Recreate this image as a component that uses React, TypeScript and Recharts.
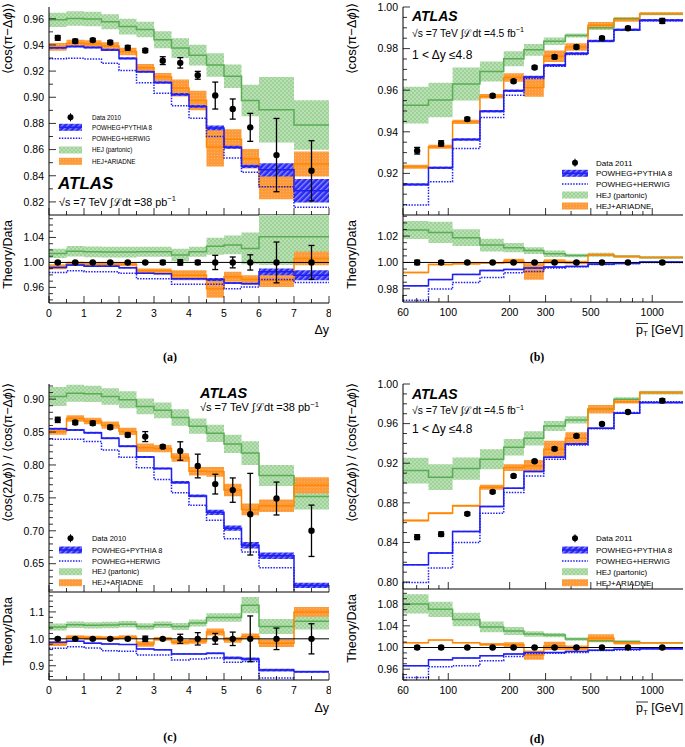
import React from "react";
import { ComposedChart, Area, Line, Scatter, ErrorBar, XAxis, YAxis, ReferenceLine } from "recharts";

const FONT = '"Liberation Sans", Arial, Helvetica, sans-serif';
const SERIF = '"Liberation Serif", "Times New Roman", serif';

const GREEN_LINE = "#58ad55";
const ORANGE_LINE = "#ff8800";
const BLUE = "#1e1ef5";

/* ---------- binning ---------- */
const DY_EDGES = [0, 0.5, 1, 1.5, 2, 2.5, 3, 3.5, 4, 4.5, 5, 5.5, 6, 7, 8];
const DY_CENTERS = [0.25, 0.75, 1.25, 1.75, 2.25, 2.75, 3.25, 3.75, 4.25, 4.75, 5.25, 5.75, 6.5, 7.5];
const DY_LABELS = [0, 1, 2, 3, 4, 5, 6, 7, 8];

const PT_EDGES = [60, 80, 105, 143, 187, 235, 294, 375, 484, 649, 868, 1415];
const PT_CENTERS = [70.4, 92.3, 124, 165, 209, 265, 332, 425, 567, 760, 1120];
const PT_LABELS = [60, 100, 200, 300, 500, 1000];
const PT_MINOR = [60, 70, 80, 90, 100, 200, 300, 400, 500, 600, 700, 800, 900, 1000];

/* ---------- (a) <cos(pi - dphi)> vs dy, 2010 ---------- */
const A_DATA = [0.9454, 0.9429, 0.9437, 0.9419, 0.9378, 0.9357, 0.928, 0.9263, 0.9168, 0.9013, 0.891, 0.877, 0.8558, 0.8438];
const A_DATA_ERR = [0.0018, 0.0015, 0.0012, 0.0015, 0.0018, 0.0015, 0.003, 0.004, 0.003, 0.0103, 0.0077, 0.0107, 0.028, 0.023];
const A_PYTHIA = [0.9378, 0.9388, 0.938, 0.9362, 0.9297, 0.9195, 0.9113, 0.9022, 0.893, 0.8766, 0.8618, 0.8472, 0.8445, 0.8285];
const A_PYTHIA_ERR = [0.0008, 0.0008, 0.0008, 0.0008, 0.0008, 0.0008, 0.0009, 0.001, 0.001, 0.0018, 0.0012, 0.0012, 0.005, 0.009];
const A_HERWIG = [0.9295, 0.9298, 0.9293, 0.926, 0.9205, 0.911, 0.903, 0.8935, 0.884, 0.87, 0.8536, 0.8426, 0.8315, 0.816];
const A_HEJ = [0.9592, 0.9602, 0.9598, 0.9577, 0.954, 0.9518, 0.944, 0.9376, 0.9322, 0.9247, 0.916, 0.8975, 0.8905, 0.8788];
const A_HEJ_ERR = [0.0055, 0.0055, 0.0055, 0.0058, 0.006, 0.006, 0.0065, 0.0075, 0.008, 0.009, 0.009, 0.012, 0.025, 0.019];
const A_ARIADNE = [0.9385, 0.9412, 0.9408, 0.9392, 0.935, 0.9225, 0.9155, 0.907, 0.8975, 0.862, 0.868, 0.853, 0.8315, 0.849];
const A_ARIADNE_ERR = [0.003, 0.0028, 0.0028, 0.0028, 0.0028, 0.003, 0.003, 0.0065, 0.0075, 0.015, 0.0075, 0.0075, 0.0095, 0.0095];

const AR_DATA_ERR = [0.0019, 0.0016, 0.0013, 0.0016, 0.0019, 0.0016, 0.0032, 0.0043, 0.0033, 0.0114, 0.0087, 0.0122, 0.0327, 0.0272];
const AR_PYTHIA = [0.992, 0.9957, 0.994, 0.994, 0.9914, 0.9825, 0.982, 0.974, 0.974, 0.9726, 0.967, 0.966, 0.985, 0.9795];
const AR_PYTHIA_ERR = [0.001, 0.001, 0.001, 0.001, 0.001, 0.001, 0.001, 0.0012, 0.0012, 0.0025, 0.0014, 0.0014, 0.0054, 0.008];
const AR_HERWIG = [0.984, 0.9866, 0.985, 0.985, 0.9825, 0.9737, 0.9737, 0.965, 0.965, 0.965, 0.958, 0.9608, 0.9726, 0.9678];
const AR_HEJ = [1.0145, 1.018, 1.017, 1.0166, 1.0166, 1.017, 1.017, 1.012, 1.017, 1.026, 1.028, 1.0225, 1.041, 1.041];
const AR_HEJ_ERR = [0.0075, 0.0085, 0.0085, 0.0085, 0.0085, 0.008, 0.008, 0.01, 0.008, 0.0135, 0.015, 0.0255, 0.045, 0.04];
const AR_ARIADNE = [0.993, 0.998, 0.997, 0.997, 0.997, 0.9866, 0.9866, 0.9796, 0.9796, 0.958, 0.977, 0.9726, 0.9715, 1.0064];
const AR_ARIADNE_ERR = [0.004, 0.003, 0.003, 0.003, 0.003, 0.0035, 0.0035, 0.008, 0.008, 0.0145, 0.008, 0.007, 0.011, 0.011];

/* ---------- (b) <cos(pi - dphi)> vs mean pT, 2011 ---------- */
const B_DATA = [0.9309, 0.9344, 0.9461, 0.9573, 0.9643, 0.9709, 0.976, 0.9808, 0.985, 0.9898, 0.9933];
const B_DATA_ERR = [0.0016, 0.0013, 0.0008, 0.0007, 0.0007, 0.0007, 0.0008, 0.0008, 0.0008, 0.0008, 0.0012];
const B_PYTHIA = [0.9147, 0.9227, 0.9363, 0.9499, 0.9597, 0.9664, 0.972, 0.9776, 0.9837, 0.9891, 0.9936];
const B_PYTHIA_ERR = [0.0006, 0.0006, 0.0006, 0.0006, 0.0006, 0.0006, 0.0006, 0.0006, 0.0006, 0.0006, 0.0006];
const B_HERWIG = [0.9048, 0.916, 0.932, 0.9469, 0.9576, 0.9656, 0.9715, 0.9772, 0.9835, 0.989, 0.9934];
const B_HEJ = [0.9528, 0.9553, 0.963, 0.969, 0.9751, 0.9794, 0.9835, 0.9863, 0.99, 0.9944, 0.9968];
const B_HEJ_ERR = [0.0088, 0.0083, 0.0079, 0.0048, 0.0036, 0.0028, 0.0018, 0.001, 0.0011, 0.0008, 0.0008];
const B_ARIADNE = [0.9232, 0.9328, 0.9448, 0.9571, 0.9661, 0.9613, 0.9763, 0.9808, 0.9912, 0.9939, 0.9968];
const B_ARIADNE_ERR = [0.001, 0.001, 0.001, 0.0011, 0.002, 0.0044, 0.0028, 0.0018, 0.0016, 0.001, 0.0005];

const BR_DATA_ERR = [0.0017, 0.0014, 0.0009, 0.0008, 0.0008, 0.0007, 0.0008, 0.0008, 0.0008, 0.0008, 0.0012];
const BR_PYTHIA = [0.9823, 0.987, 0.9909, 0.9939, 0.9947, 0.9957, 0.9965, 0.997, 0.9988, 0.9993, 1.0003];
const BR_PYTHIA_ERR = [0.0005, 0.0005, 0.0005, 0.0005, 0.0005, 0.0005, 0.0005, 0.0005, 0.0005, 0.0005, 0.0005];
const BR_HERWIG = [0.9714, 0.9798, 0.9848, 0.9886, 0.9922, 0.9932, 0.9957, 0.9968, 0.9985, 0.9993, 1.0];
const BR_HEJ = [1.0246, 1.0228, 1.0188, 1.0132, 1.0112, 1.009, 1.0066, 1.0053, 1.0058, 1.0046, 1.0038];
const BR_HEJ_ERR = [0.0068, 0.008, 0.0064, 0.0048, 0.0035, 0.0025, 0.0025, 0.0013, 0.0015, 0.0009, 0.0009];
const BR_ARIADNE = [0.9924, 0.9985, 0.999, 0.9995, 1.001, 0.9932, 1.0008, 1.0, 1.0058, 1.0046, 1.0038];
const BR_ARIADNE_ERR = [0.0006, 0.0006, 0.0006, 0.0007, 0.0018, 0.0063, 0.0016, 0.0013, 0.0009, 0.0007, 0.0005];

/* ---------- (c) <cos(2dphi)>/<cos(pi - dphi)> vs dy, 2010 ---------- */
const C_DATA = [0.8685, 0.8644, 0.8634, 0.8573, 0.8456, 0.8431, 0.8278, 0.8212, 0.7984, 0.7709, 0.7618, 0.7252, 0.749, 0.7];
const C_DATA_ERR = [0.004, 0.003, 0.003, 0.003, 0.003, 0.0076, 0.0025, 0.014, 0.018, 0.015, 0.0185, 0.062, 0.025, 0.039];
const C_PYTHIA = [0.855, 0.853, 0.849, 0.8405, 0.8285, 0.8122, 0.7945, 0.7735, 0.753, 0.728, 0.704, 0.678, 0.662, 0.617];
const C_PYTHIA_ERR = [0.0015, 0.0015, 0.0015, 0.0015, 0.0015, 0.0015, 0.0015, 0.002, 0.002, 0.004, 0.004, 0.005, 0.005, 0.004];
const C_HERWIG = [0.839, 0.839, 0.8355, 0.8228, 0.8116, 0.7958, 0.778, 0.7577, 0.7389, 0.716, 0.688, 0.6678, 0.6439, 0.585];
const C_HEJ = [0.904, 0.909, 0.908, 0.904, 0.899, 0.889, 0.883, 0.872, 0.859, 0.848, 0.832, 0.818, 0.784, 0.752];
const C_HEJ_ERR = [0.0145, 0.013, 0.0125, 0.0125, 0.013, 0.012, 0.012, 0.0125, 0.0115, 0.013, 0.014, 0.018, 0.016, 0.0195];
const C_ARIADNE = [0.851, 0.8705, 0.8668, 0.8605, 0.851, 0.8262, 0.825, 0.8112, 0.7905, 0.7895, 0.762, 0.7325, 0.738, 0.769];
const C_ARIADNE_ERR = [0.005, 0.005, 0.005, 0.0055, 0.0055, 0.0065, 0.0055, 0.0065, 0.0065, 0.0075, 0.0095, 0.009, 0.0095, 0.0125];

const CR_DATA_ERR = [0.005, 0.004, 0.004, 0.004, 0.004, 0.01, 0.003, 0.017, 0.023, 0.02, 0.025, 0.085, 0.04, 0.056];
const CR_PYTHIA = [0.9875, 0.991, 0.984, 0.981, 0.979, 0.9625, 0.959, 0.944, 0.944, 0.946, 0.929, 0.925, 0.884, 0.8775];
const CR_PYTHIA_ERR = [0.002, 0.002, 0.002, 0.002, 0.002, 0.002, 0.002, 0.002, 0.002, 0.003, 0.005, 0.006, 0.005, 0.004];
const CR_HERWIG = [0.965, 0.971, 0.966, 0.956, 0.954, 0.94, 0.94, 0.921, 0.925, 0.929, 0.9125, 0.916, 0.854, 0.83];
const CR_HEJ = [1.044, 1.0525, 1.05, 1.051, 1.054, 1.046, 1.0525, 1.046, 1.059, 1.079, 1.079, 1.125, 1.046, 1.065];
const CR_HEJ_ERR = [0.013, 0.012, 0.012, 0.012, 0.012, 0.012, 0.012, 0.013, 0.013, 0.016, 0.016, 0.03, 0.028, 0.03];
const CR_ARIADNE = [0.981, 1.006, 1.004, 1.003, 1.006, 0.981, 1.0, 0.9875, 0.991, 1.025, 0.996, 1.009, 0.984, 1.1];
const CR_ARIADNE_ERR = [0.008, 0.007, 0.007, 0.007, 0.007, 0.01, 0.007, 0.009, 0.009, 0.013, 0.011, 0.011, 0.014, 0.018];

/* ---------- (d) <cos(2dphi)>/<cos(pi - dphi)> vs mean pT, 2011 ---------- */
const D_DATA = [0.8454, 0.8484, 0.8689, 0.8911, 0.9072, 0.922, 0.9345, 0.9476, 0.9597, 0.9718, 0.9832];
const D_DATA_ERR = [0.0025, 0.0022, 0.0015, 0.0012, 0.0012, 0.0012, 0.0015, 0.0012, 0.0012, 0.0012, 0.0018];
const D_PYTHIA = [0.8175, 0.8293, 0.8511, 0.8763, 0.8948, 0.9116, 0.926, 0.9395, 0.9553, 0.9704, 0.9812];
const D_PYTHIA_ERR = [0.0008, 0.0008, 0.0008, 0.0008, 0.0008, 0.0008, 0.0008, 0.0008, 0.0008, 0.0008, 0.0008];
const D_HERWIG = [0.7995, 0.8141, 0.84, 0.8696, 0.8904, 0.9072, 0.924, 0.9385, 0.9548, 0.9711, 0.9822];
const D_HEJ = [0.9126, 0.9059, 0.9146, 0.924, 0.9361, 0.9452, 0.9576, 0.9637, 0.9745, 0.9845, 0.9913];
const D_HEJ_ERR = [0.013, 0.013, 0.0113, 0.01, 0.0084, 0.0072, 0.005, 0.0037, 0.003, 0.0022, 0.002];
const D_ARIADNE = [0.8622, 0.8696, 0.877, 0.8958, 0.9156, 0.9173, 0.9341, 0.9452, 0.9745, 0.9822, 0.9913];
const D_ARIADNE_ERR = [0.001, 0.001, 0.001, 0.0025, 0.0034, 0.0059, 0.0087, 0.0062, 0.0042, 0.002, 0.0012];

const DR_DATA_ERR = [0.003, 0.0026, 0.0018, 0.0014, 0.0014, 0.0013, 0.0016, 0.0013, 0.0013, 0.0012, 0.0018];
const DR_PYTHIA = [0.9663, 0.9776, 0.9807, 0.985, 0.988, 0.9907, 0.9907, 0.9925, 0.995, 0.9969, 0.9975];
const DR_PYTHIA_ERR = [0.001, 0.001, 0.001, 0.001, 0.001, 0.001, 0.001, 0.001, 0.001, 0.001, 0.001];
const DR_HERWIG = [0.9445, 0.9645, 0.9663, 0.9757, 0.9832, 0.989, 0.9895, 0.991, 0.9945, 0.9955, 0.998];
const DR_HEJ = [1.0804, 1.0705, 1.0518, 1.038, 1.0305, 1.025, 1.023, 1.0155, 1.0125, 1.011, 1.009];
const DR_HEJ_ERR = [0.0178, 0.014, 0.0125, 0.01, 0.0075, 0.005, 0.004, 0.003, 0.002, 0.0015, 0.0012];
const DR_ARIADNE = [1.0088, 1.0137, 1.0088, 1.0056, 1.005, 0.986, 1.003, 0.999, 1.017, 1.009, 1.009];
const DR_ARIADNE_ERR = [0.0008, 0.0008, 0.0008, 0.0025, 0.0045, 0.0085, 0.0075, 0.0045, 0.0075, 0.0035, 0.0012];

const LEGEND_LABELS = ["POWHEG+PYTHIA 8", "POWHEG+HERWIG", "HEJ (partonic)", "HEJ+ARIADNE"];

/* ---------- helpers ---------- */
const steps = (a: number, b: number, s: number) => {
  const out: number[] = [];
  for (let v = a; v <= b + 1e-9; v += s) out.push(+v.toFixed(6));
  return out;
};
const isIn = (list: number[], v: number) => list.some((m) => Math.abs(m - v) < 1e-6 * Math.max(1, Math.abs(m)));

const LW = 48;
const TM = 8;
const RM = 2;

function xTick(side: "bottom" | "top", majors: number[], labels: boolean) {
  return (p: any) => {
    const v = p.payload.value;
    const major = isIn(majors, v);
    const len = major ? 7 : 4;
    const d = side === "bottom" ? -1 : 1;
    return (
      <g>
        <line x1={p.x} x2={p.x} y1={p.y} y2={p.y + d * len} stroke="#000" strokeWidth={0.8} />
        {labels && major ? (
          <text x={p.x} y={p.y + 13.5} textAnchor="middle" fontSize={10.5} fontFamily={FONT} fill="#000">
            {String(v)}
          </text>
        ) : null}
      </g>
    );
  };
}

function yTick(side: "left" | "right", majors: number[], digits: number) {
  return (p: any) => {
    const v = p.payload.value;
    const major = isIn(majors, v);
    const len = major ? 7 : 4;
    const d = side === "left" ? 1 : -1;
    return (
      <g>
        <line x1={p.x} x2={p.x + d * len} y1={p.y} y2={p.y} stroke="#000" strokeWidth={0.8} />
        {side === "left" && major ? (
          <text x={p.x - 5} y={p.y} dy="0.36em" textAnchor="end" fontSize={10.5} fontFamily={FONT} fill="#000">
            {v.toFixed(digits)}
          </text>
        ) : null}
      </g>
    );
  };
}

interface PlotProps {
  box: [number, number, number, number];
  log?: boolean;
  xDomain: [number, number];
  xMajor: number[];
  xAll: number[];
  xLabels?: boolean;
  yDomain: [number, number];
  yMajor: number[];
  yAll: number[];
  yDigits: number;
  edges: number[];
  centers: number[];
  data: number[];
  dataErr: number[];
  py: number[];
  pyErr: number[];
  hw: number[];
  hej: number[];
  hejErr: number[];
  ar: number[];
  arErr: number[];
  unity?: boolean;
}

function Plot(p: PlotProps) {
  const [l, t, r, b] = p.box;
  const bh = p.xLabels ? 20 : 1;
  const w = r - l + LW + RM;
  const h = b - t + TM + bh;
  const n = p.edges.length - 1;
  const rows = p.edges.map((x, i) => {
    const k = Math.min(i, n - 1);
    return {
      x,
      pyBand: [p.py[k] - p.pyErr[k], p.py[k] + p.pyErr[k]],
      py: p.py[k],
      hw: p.hw[k],
      hejBand: [p.hej[k] - p.hejErr[k], p.hej[k] + p.hejErr[k]],
      hej: p.hej[k],
      arBand: [p.ar[k] - p.arErr[k], p.ar[k] + p.arErr[k]],
      ar: p.ar[k],
    };
  });
  const pts = p.centers.map((x, i) => ({ x, y: p.data[i], e: p.dataErr[i] }));
  const scale = p.log ? "log" : "linear";
  return (
    <div style={{ position: "absolute", left: l - LW, top: t - TM }}>
      <ComposedChart width={w} height={h} data={rows} margin={{ top: TM, right: RM, bottom: 0, left: 0 }}>
        <XAxis
          dataKey="x"
          type="number"
          scale={scale}
          domain={p.xDomain}
          allowDataOverflow
          ticks={p.xAll}
          interval={0}
          height={bh}
          tickSize={0}
          tickMargin={0}
          tickLine={false}
          axisLine={{ stroke: "#000", strokeWidth: 1 }}
          tick={xTick("bottom", p.xMajor, !!p.xLabels)}
        />
        <XAxis
          xAxisId="t"
          orientation="top"
          dataKey="x"
          type="number"
          scale={scale}
          domain={p.xDomain}
          allowDataOverflow
          ticks={p.xAll}
          interval={0}
          height={0}
          tickSize={0}
          tickMargin={0}
          tickLine={false}
          axisLine={{ stroke: "#000", strokeWidth: 1 }}
          tick={xTick("top", p.xMajor, false)}
        />
        <YAxis
          type="number"
          domain={p.yDomain}
          allowDataOverflow
          ticks={p.yAll}
          interval={0}
          width={LW}
          tickSize={0}
          tickMargin={0}
          tickLine={false}
          axisLine={{ stroke: "#000", strokeWidth: 1 }}
          tick={yTick("left", p.yMajor, p.yDigits)}
        />
        <YAxis
          yAxisId="r"
          orientation="right"
          type="number"
          domain={p.yDomain}
          allowDataOverflow
          ticks={p.yAll}
          interval={0}
          width={0}
          tickSize={0}
          tickMargin={0}
          tickLine={false}
          axisLine={{ stroke: "#000", strokeWidth: 1 }}
          tick={yTick("right", p.yMajor, p.yDigits)}
        />
        <Area dataKey="hejBand" type="stepAfter" fill="url(#hejPat)" fillOpacity={1} stroke="none" isAnimationActive={false} />
        <Area dataKey="arBand" type="stepAfter" fill="url(#arPat)" fillOpacity={1} stroke="none" isAnimationActive={false} />
        <Area dataKey="pyBand" type="stepAfter" fill="url(#pyPat)" fillOpacity={1} stroke="none" isAnimationActive={false} />
        <Line dataKey="hej" type="stepAfter" stroke={GREEN_LINE} strokeWidth={1.5} dot={false} activeDot={false} isAnimationActive={false} />
        <Line dataKey="ar" type="stepAfter" stroke={ORANGE_LINE} strokeWidth={1.5} dot={false} activeDot={false} isAnimationActive={false} />
        <Line dataKey="py" type="stepAfter" stroke={BLUE} strokeWidth={1.5} dot={false} activeDot={false} isAnimationActive={false} />
        <Line dataKey="hw" type="stepAfter" stroke={BLUE} strokeWidth={1.5} strokeDasharray="1.5 1.3" dot={false} activeDot={false} isAnimationActive={false} />
        {p.unity ? <ReferenceLine y={1} stroke="#000" strokeWidth={1} /> : null}
        <Scatter
          data={pts}
          dataKey="y"
          isAnimationActive={false}
          shape={(s: any) => <circle cx={s.cx} cy={s.cy} r={3.2} fill="#000" />}
        >
          <ErrorBar dataKey="e" direction="y" width={3} stroke="#000" strokeWidth={1.3} />
        </Scatter>
      </ComposedChart>
    </div>
  );
}

/* ---------- annotation helpers ---------- */
function VTitle({ x, y, size, children }: { x: number; y: number; size: number; children: React.ReactNode }) {
  return (
    <text transform={`translate(${x},${y}) rotate(-90)`} textAnchor="end" fontSize={size} fontFamily={FONT} fill="#000">
      {children}
    </text>
  );
}

function Legend({ x, w, tx, rows, fs, year }: { x: number; w: number; tx: number; rows: number[]; fs: number; year: string }) {
  const cx = x + w / 2;
  return (
    <g fontFamily={FONT} fontSize={fs} fill="#000">
      <circle cx={cx} cy={rows[0]} r={3} fill="#000" />
      <line x1={cx} x2={cx} y1={rows[0] - 4} y2={rows[0] + 4} stroke="#000" strokeWidth={1} />
      <text x={tx} y={rows[0]} dy="0.35em">{`Data ${year}`}</text>
      <rect x={x} y={rows[1] - 3.5} width={w} height={7} fill="url(#pyPat)" />
      <line x1={x} x2={x + w} y1={rows[1]} y2={rows[1]} stroke={BLUE} strokeWidth={1.5} />
      <text x={tx} y={rows[1]} dy="0.35em">{LEGEND_LABELS[0]}</text>
      <line x1={x} x2={x + w} y1={rows[2]} y2={rows[2]} stroke={BLUE} strokeWidth={1.5} strokeDasharray="1.5 1.3" />
      <text x={tx} y={rows[2]} dy="0.35em">{LEGEND_LABELS[1]}</text>
      <rect x={x} y={rows[3] - 3.5} width={w} height={7} fill="url(#hejPat)" />
      <text x={tx} y={rows[3]} dy="0.35em">{LEGEND_LABELS[2]}</text>
      <rect x={x} y={rows[4] - 3.5} width={w} height={7} fill="url(#arPat)" />
      <text x={tx} y={rows[4]} dy="0.35em">{LEGEND_LABELS[3]}</text>
    </g>
  );
}

function Lumi({ x, y, fs, lumi, unit }: { x: number; y: number; fs: number; lumi: string; unit: string }) {
  return (
    <text x={x} y={y} fontSize={fs} fontFamily={FONT} fill="#000">
      {"\u221As =7 TeV  \u222B\u2112dt =" + lumi + " " + unit}
      <tspan dy={-fs * 0.4} fontSize={fs * 0.7}>{"\u22121"}</tspan>
    </text>
  );
}

function Atlas({ x, y, fs }: { x: number; y: number; fs: number }) {
  return (
    <text x={x} y={y} fontSize={fs} fontFamily={FONT} fontWeight="bold" fontStyle="italic" fill="#000">
      ATLAS
    </text>
  );
}

function PtTitle({ x, y }: { x: number; y: number }) {
  return (
    <g>
      <text x={x} y={y} fontSize={12.5} fontFamily={FONT} fill="#000">
        p<tspan fontSize={8} dy={2.5}>T</tspan>
        <tspan dy={-2.5}>{" [GeV]"}</tspan>
      </text>
      <line x1={x} x2={x + 12} y1={y - 10} y2={y - 10} stroke="#000" strokeWidth={0.8} />
    </g>
  );
}

const COS_TITLE = (
  <>
    {"\u27E8cos(\u03C0\u2212\u0394"}
    <tspan fontStyle="italic">{"\u03D5"}</tspan>
    {")\u27E9"}
  </>
);
const RATIO2_TITLE = (
  <>
    {"\u27E8cos(2\u0394"}
    <tspan fontStyle="italic">{"\u03D5"}</tspan>
    {")\u27E9 / \u27E8cos(\u03C0\u2212\u0394"}
    <tspan fontStyle="italic">{"\u03D5"}</tspan>
    {")\u27E9"}
  </>
);

export default function App() {
  const dyMinor = steps(0, 8, 0.5);
  const ones14 = DY_CENTERS.map(() => 1);
  const ones11 = PT_CENTERS.map(() => 1);
  const dyCommon = { xDomain: [0, 8] as [number, number], xMajor: DY_LABELS, xAll: dyMinor, edges: DY_EDGES, centers: DY_CENTERS };
  const ptCommon = { log: true, xDomain: [60, 1415] as [number, number], xMajor: PT_LABELS, xAll: PT_MINOR, edges: PT_EDGES, centers: PT_CENTERS };

  return (
    <div style={{ position: "absolute", left: 0, top: 0, width: 685, height: 747, background: "#fff", overflow: "hidden" }}>
      {/* (a) */}
      <Plot
        {...dyCommon}
        box={[49, 7, 329, 215]}
        yDomain={[0.81, 0.969]}
        yMajor={[0.82, 0.84, 0.86, 0.88, 0.9, 0.92, 0.94, 0.96]}
        yAll={steps(0.82, 0.96, 0.01)}
        yDigits={2}
        data={A_DATA} dataErr={A_DATA_ERR}
        py={A_PYTHIA} pyErr={A_PYTHIA_ERR} hw={A_HERWIG}
        hej={A_HEJ} hejErr={A_HEJ_ERR} ar={A_ARIADNE} arErr={A_ARIADNE_ERR}
      />
      <Plot
        {...dyCommon}
        box={[49, 215, 329, 303]}
        xLabels
        unity
        yDomain={[0.935, 1.076]}
        yMajor={[0.96, 1.0, 1.04]}
        yAll={steps(0.94, 1.07, 0.01)}
        yDigits={2}
        data={ones14} dataErr={AR_DATA_ERR}
        py={AR_PYTHIA} pyErr={AR_PYTHIA_ERR} hw={AR_HERWIG}
        hej={AR_HEJ} hejErr={AR_HEJ_ERR} ar={AR_ARIADNE} arErr={AR_ARIADNE_ERR}
      />
      {/* (b) */}
      <Plot
        {...ptCommon}
        box={[403, 7, 683, 215]}
        yDomain={[0.9, 1.0]}
        yMajor={[0.92, 0.94, 0.96, 0.98, 1.0]}
        yAll={steps(0.905, 1.0, 0.005)}
        yDigits={2}
        data={B_DATA} dataErr={B_DATA_ERR}
        py={B_PYTHIA} pyErr={B_PYTHIA_ERR} hw={B_HERWIG}
        hej={B_HEJ} hejErr={B_HEJ_ERR} ar={B_ARIADNE} arErr={B_ARIADNE_ERR}
      />
      <Plot
        {...ptCommon}
        box={[403, 215, 683, 302]}
        xLabels
        unity
        yDomain={[0.97, 1.036]}
        yMajor={[0.98, 1.0, 1.02]}
        yAll={steps(0.975, 1.035, 0.005)}
        yDigits={2}
        data={ones11} dataErr={BR_DATA_ERR}
        py={BR_PYTHIA} pyErr={BR_PYTHIA_ERR} hw={BR_HERWIG}
        hej={BR_HEJ} hejErr={BR_HEJ_ERR} ar={BR_ARIADNE} arErr={BR_ARIADNE_ERR}
      />
      {/* (c) */}
      <Plot
        {...dyCommon}
        box={[49, 384, 329, 592]}
        yDomain={[0.607, 0.923]}
        yMajor={[0.65, 0.7, 0.75, 0.8, 0.85, 0.9]}
        yAll={steps(0.61, 0.92, 0.01)}
        yDigits={2}
        data={C_DATA} dataErr={C_DATA_ERR}
        py={C_PYTHIA} pyErr={C_PYTHIA_ERR} hw={C_HERWIG}
        hej={C_HEJ} hejErr={C_HEJ_ERR} ar={C_ARIADNE} arErr={C_ARIADNE_ERR}
      />
      <Plot
        {...dyCommon}
        box={[49, 592, 329, 680]}
        xLabels
        unity
        yDomain={[0.847, 1.174]}
        yMajor={[0.9, 1.0, 1.1]}
        yAll={steps(0.86, 1.16, 0.02)}
        yDigits={1}
        data={ones14} dataErr={CR_DATA_ERR}
        py={CR_PYTHIA} pyErr={CR_PYTHIA_ERR} hw={CR_HERWIG}
        hej={CR_HEJ} hejErr={CR_HEJ_ERR} ar={CR_ARIADNE} arErr={CR_ARIADNE_ERR}
      />
      {/* (d) */}
      <Plot
        {...ptCommon}
        box={[403, 384, 683, 589]}
        yDomain={[0.793, 1.0]}
        yMajor={[0.8, 0.84, 0.88, 0.92, 0.96, 1.0]}
        yAll={steps(0.8, 1.0, 0.01)}
        yDigits={2}
        data={D_DATA} dataErr={D_DATA_ERR}
        py={D_PYTHIA} pyErr={D_PYTHIA_ERR} hw={D_HERWIG}
        hej={D_HEJ} hejErr={D_HEJ_ERR} ar={D_ARIADNE} arErr={D_ARIADNE_ERR}
      />
      <Plot
        {...ptCommon}
        box={[403, 589, 683, 680]}
        xLabels
        unity
        yDomain={[0.94, 1.108]}
        yMajor={[0.96, 1.0, 1.04, 1.08]}
        yAll={steps(0.94, 1.1, 0.01)}
        yDigits={2}
        data={ones11} dataErr={DR_DATA_ERR}
        py={DR_PYTHIA} pyErr={DR_PYTHIA_ERR} hw={DR_HERWIG}
        hej={DR_HEJ} hejErr={DR_HEJ_ERR} ar={DR_ARIADNE} arErr={DR_ARIADNE_ERR}
      />

      <svg width={685} height={747} style={{ position: "absolute", left: 0, top: 0, pointerEvents: "none" }}>
        <defs>
          <pattern id="hejPat" patternUnits="userSpaceOnUse" width="4" height="4">
            <rect width="4" height="4" fill="#b8e0b2" />
            <path d="M0 0L4 4M4 0L0 4" stroke="#92cc8c" strokeWidth="0.7" />
          </pattern>
          <pattern id="pyPat" patternUnits="userSpaceOnUse" width="4" height="4" patternTransform="rotate(45)">
            <rect width="4" height="4" fill="#2a2af2" />
            <rect width="1.4" height="4" fill="#8c8cff" />
          </pattern>
          <pattern id="arPat" patternUnits="userSpaceOnUse" width="3" height="3">
            <rect width="3" height="3" fill="#fd9b3a" />
            <rect width="1" height="1" fill="#fbb266" />
          </pattern>
        </defs>

        {/* axis titles */}
        <VTitle x={12} y={3} size={13}>{COS_TITLE}</VTitle>
        <VTitle x={12} y={220} size={12.5}>Theory/Data</VTitle>
        <VTitle x={356} y={3} size={13}>{COS_TITLE}</VTitle>
        <VTitle x={356} y={220} size={12.5}>Theory/Data</VTitle>
        <VTitle x={12} y={383} size={12.5}>{RATIO2_TITLE}</VTitle>
        <VTitle x={12} y={597} size={12.5}>Theory/Data</VTitle>
        <VTitle x={356} y={383} size={12.5}>{RATIO2_TITLE}</VTitle>
        <VTitle x={356} y={594} size={12.5}>Theory/Data</VTitle>

        <text x={329} y={333.5} textAnchor="end" fontSize={12.5} fontFamily={FONT}>{"\u0394y"}</text>
        <text x={329} y={712} textAnchor="end" fontSize={12.5} fontFamily={FONT}>{"\u0394y"}</text>
        <PtTitle x={636} y={333.5} />
        <PtTitle x={636} y={712} />

        {/* captions */}
        <text x={170} y={361} textAnchor="middle" fontSize={12} fontWeight="bold" fontFamily={SERIF}>(a)</text>
        <text x={537} y={361} textAnchor="middle" fontSize={12} fontWeight="bold" fontFamily={SERIF}>(b)</text>
        <text x={170} y={741} textAnchor="middle" fontSize={12} fontWeight="bold" fontFamily={SERIF}>(c)</text>
        <text x={537} y={743} textAnchor="middle" fontSize={12} fontWeight="bold" fontFamily={SERIF}>(d)</text>

        {/* ATLAS labels */}
        <Atlas x={58} y={189} fs={17} />
        <Lumi x={59} y={205.5} fs={10.8} lumi="38" unit="pb" />
        <Atlas x={412} y={21} fs={14} />
        <Lumi x={412} y={36.5} fs={10.3} lumi="4.5" unit="fb" />
        <text x={412} y={59} fontSize={12} fontFamily={FONT}>{"1 < \u0394y \u22644.8"}</text>
        <Atlas x={200} y={398} fs={14.5} />
        <Lumi x={200} y={411} fs={11} lumi="38" unit="pb" />
        <Atlas x={412} y={399} fs={14} />
        <Lumi x={412} y={414} fs={10.3} lumi="4.5" unit="fb" />
        <text x={412} y={432.5} fontSize={12} fontFamily={FONT}>{"1 < \u0394y \u22644.8"}</text>

        {/* legends */}
        <Legend x={59} w={23} tx={92} rows={[117.3, 127.3, 138.3, 150, 161.3]} fs={6.3} year="2010" />
        <Legend x={562} w={26} tx={596} rows={[162.7, 173.3, 184, 195, 206]} fs={8} year="2011" />
        <Legend x={59} w={23} tx={92} rows={[538.3, 550, 561, 571.7, 582.7]} fs={7.4} year="2010" />
        <Legend x={562} w={26} tx={596} rows={[538.3, 550, 561, 571.7, 582.7]} fs={8} year="2011" />
      </svg>
    </div>
  );
}
